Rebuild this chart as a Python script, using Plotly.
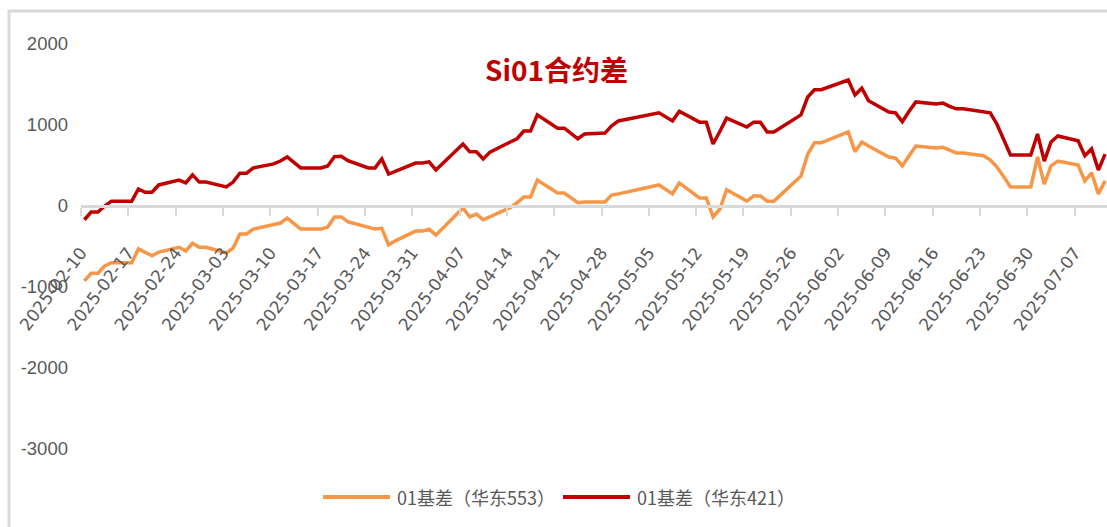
import plotly.graph_objects as go
import pandas as pd

# ---- data ----
dates = [
    "2025-02-10", "2025-02-11", "2025-02-12", "2025-02-13", "2025-02-14",
    "2025-02-17", "2025-02-18", "2025-02-19", "2025-02-20", "2025-02-21",
    "2025-02-24", "2025-02-25", "2025-02-26", "2025-02-27", "2025-02-28",
    "2025-03-03", "2025-03-04", "2025-03-05", "2025-03-06", "2025-03-07",
    "2025-03-10", "2025-03-11", "2025-03-12", "2025-03-13", "2025-03-14",
    "2025-03-17", "2025-03-18", "2025-03-19", "2025-03-20", "2025-03-21",
    "2025-03-24", "2025-03-25", "2025-03-26", "2025-03-27", "2025-03-28",
    "2025-03-31", "2025-04-01", "2025-04-02", "2025-04-03",
    "2025-04-07", "2025-04-08", "2025-04-09", "2025-04-10", "2025-04-11",
    "2025-04-14", "2025-04-15", "2025-04-16", "2025-04-17", "2025-04-18",
    "2025-04-21", "2025-04-22", "2025-04-23", "2025-04-24", "2025-04-25",
    "2025-04-28", "2025-04-29", "2025-04-30",
    "2025-05-06", "2025-05-07", "2025-05-08", "2025-05-09",
    "2025-05-12", "2025-05-13", "2025-05-14", "2025-05-15", "2025-05-16",
    "2025-05-19", "2025-05-20", "2025-05-21", "2025-05-22", "2025-05-23",
    "2025-05-26", "2025-05-27", "2025-05-28", "2025-05-29", "2025-05-30",
    "2025-06-03", "2025-06-04", "2025-06-05", "2025-06-06",
    "2025-06-09", "2025-06-10", "2025-06-11", "2025-06-12", "2025-06-13",
    "2025-06-16", "2025-06-17", "2025-06-18", "2025-06-19", "2025-06-20",
    "2025-06-23", "2025-06-24", "2025-06-25", "2025-06-26", "2025-06-27",
    "2025-06-30", "2025-07-01", "2025-07-02", "2025-07-03", "2025-07-04",
    "2025-07-07", "2025-07-08", "2025-07-09", "2025-07-10", "2025-07-11",
]

basis_553 = [
    -925, -830, -830, -740, -700, -700, -530, -570, -615, -570, -510, -555, -460, -510, -510,
    -580, -520, -345, -345, -285, -235, -210, -150, -220, -285, -285, -260, -135, -135, -195,
    -270, -285, -275, -480, -430, -310,
    -310, -285, -360, -25, -135, -100, -170, -135, -20, 40, 110, 110, 320, 160, 160, 100, 40,
    50, 50, 135, 150,
    260, 205, 150, 285, 100, 100, -135, -40, 200, 60, 125, 125, 60, 60, 295, 370, 640, 780, 780,
    915, 670, 790, 740, 605, 590, 495, 620, 740, 715, 725, 690, 655, 655, 620, 570, 480, 360,
    235, 235,
    605, 270, 495, 555, 505, 310, 410, 150, 310,
]

basis_421 = [
    -170, -75, -75, 0, 60, 60, 210, 170, 170, 260, 320, 285, 385, 295, 295,
    235, 295, 405, 405, 470, 520, 555, 605, 540, 470, 470, 495, 610, 615, 560,
    470, 470, 580, 395, 430, 530,
    530, 545, 445, 765, 670, 670, 580, 665, 790, 830, 925, 925, 1125, 960, 960, 895, 830,
    890, 900, 990, 1050,
    1150, 1100, 1050, 1170, 1035, 1035, 765, 920, 1085, 975, 1035, 1035, 915, 915, 1080, 1125,
    1345, 1435, 1435,
    1555, 1370, 1455, 1300, 1160, 1150, 1040, 1170, 1285, 1260, 1270, 1230, 1200, 1200, 1160,
    1150, 1010, 830, 630, 630,
    890, 555, 790, 865, 805, 620, 705, 445, 640,
]

series_names = ["01基差（华东553）", "01基差（华东421）"]
title_text = "Si01合约差"

x_tick_labels = [
    "2025-02-10", "2025-02-17", "2025-02-24", "2025-03-03", "2025-03-10", "2025-03-17",
    "2025-03-24", "2025-03-31", "2025-04-07", "2025-04-14", "2025-04-21", "2025-04-28",
    "2025-05-05", "2025-05-12", "2025-05-19", "2025-05-26", "2025-06-02", "2025-06-09",
    "2025-06-16", "2025-06-23", "2025-06-30", "2025-07-07",
]
y_tick_values = [2000, 1000, 0, -1000, -2000, -3000]
y_tick_labels = ["2000", "1000", "0", "-1000", "-2000", "-3000"]

# ---- styling / layout ----
W, H = 1107, 527
ML, MR, MT, MB = 81, 0, 44, 78
PW, PH = W - ML - MR, H - MT - MB

ORANGE = "#F79646"
RED = "#C00000"
GRID = "#D9D9D9"
TXT = "#595959"


def px_x(p):
    return (p - ML) / PW


def px_y(p):
    return (H - MB - p) / PH


x_dt = pd.to_datetime(dates)
tick_vals = pd.to_datetime(x_tick_labels) - pd.Timedelta(hours=12)
x_start = pd.Timestamp("2025-02-09 12:00")
x_end = x_start + pd.Timedelta(days=PW / 6.76)

fig = go.Figure()
fig.add_trace(go.Scatter(x=x_dt, y=basis_553, mode="lines", name=series_names[0],
                         line=dict(color=ORANGE, width=3.5), showlegend=False))
fig.add_trace(go.Scatter(x=x_dt, y=basis_421, mode="lines", name=series_names[1],
                         line=dict(color=RED, width=3.5), showlegend=False))

fig.update_layout(
    width=W, height=H,
    margin=dict(l=ML, r=MR, t=MT, b=MB, pad=0),
    paper_bgcolor="white", plot_bgcolor="white",
    xaxis=dict(
        type="date", range=[x_start, x_end],
        tickvals=list(tick_vals), ticktext=x_tick_labels,
        tickangle=-53, ticks="outside", ticklen=8, tickwidth=2, tickcolor=GRID,
        showline=True, linecolor=GRID, linewidth=3,
        showgrid=False, zeroline=False,
        anchor="free", position=0.6,
        ticklabelstandoff=20,
        tickfont=dict(family="DejaVu Sans", size=17, color=TXT),
    ),
    yaxis=dict(
        range=[-3000, 2000], domain=[0, 1],
        tickvals=y_tick_values, ticktext=y_tick_labels,
        showgrid=False, zeroline=False, showline=False, ticks="",
        ticklabelstandoff=12,
        tickfont=dict(family="Liberation Sans, Arial, sans-serif", size=18.5, color=TXT),
    ),
)

# chart frame (top and left border)
fig.add_shape(type="path", xref="paper", yref="paper",
              path=f"M {px_x(9)} {px_y(H + 10)} L {px_x(9)} {px_y(11)} L {px_x(W + 10)} {px_y(11)}",
              line=dict(color=GRID, width=3), layer="below")

# title
fig.add_annotation(text=f"<b>{title_text}</b>", xref="paper", yref="paper",
                   x=px_x(556), y=px_y(69), xanchor="center", yanchor="middle",
                   showarrow=False,
                   font=dict(family="Noto Sans CJK SC", size=28, color=RED))

# legend (manual, to match the long line symbols)
leg_y = px_y(497)
for (x0, x1, tx), col, name in [((323, 390, 395), ORANGE, series_names[0]),
                                 ((563, 630, 635), RED, series_names[1])]:
    fig.add_shape(type="line", xref="paper", yref="paper",
                  x0=px_x(x0), x1=px_x(x1), y0=leg_y, y1=leg_y,
                  line=dict(color=col, width=4))
    fig.add_annotation(text=name, xref="paper", yref="paper",
                       x=px_x(tx), y=leg_y, xanchor="left", yanchor="middle",
                       showarrow=False,
                       font=dict(family="Noto Sans CJK SC", size=18, color=TXT))

fig.write_html("out.html", config={"displayModeBar": False},
               post_script="document.body.style.margin='0';"
               "document.body.style.overflow='hidden';")
